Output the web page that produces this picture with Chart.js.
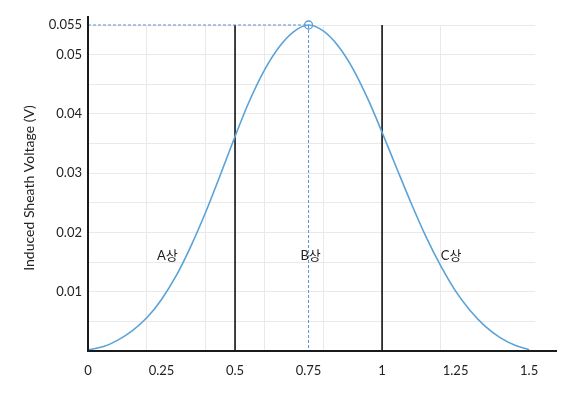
<!DOCTYPE html>
<html><head><meta charset="utf-8">
<script src="https://cdn.jsdelivr.net/npm/chart.js@4"></script>
<style>html,body{margin:0;padding:0;background:#fff}</style>
</head><body>
<canvas id="c" width="580" height="397"></canvas>
<script>
// ---- data ----
const positions = [0,0.05,0.1,0.15,0.2,0.25,0.3,0.35,0.4,0.45,0.5,0.55,0.6,0.65,0.7,0.75,
                   0.8,0.85,0.9,0.95,1.0,1.05,1.1,1.15,1.2,1.25,1.3,1.35,1.4,1.45,1.5];
const voltage = [0.0002,0.0007,0.0018,0.0034,0.0056,0.0087,0.0127,0.0177,0.0234,0.0297,0.0362,0.0423,0.0474,0.0513,0.0539,0.0550,
                 0.0540,0.0515,0.0477,0.0427,0.0369,0.0308,0.0248,0.0192,0.0143,0.0101,0.0068,0.0042,0.0023,0.0010,0.0002];
const xTickValues = [0,0.25,0.5,0.75,1,1.25,1.5];
const yTickValues = [0.01,0.02,0.03,0.04,0.05,0.055];
const peakX = 0.75, peakV = 0.055;
const phaseBoundaries = [0.5, 1];
const phaseNames = ['A상','B상','C상'];
const phaseLabelX = [0.27, 0.757, 1.235];
const phaseLabelV = [0.0160, 0.0160, 0.0160];
const yTitle = 'Induced Sheath Voltage (V)';

const FONT = "Lato, 'Noto Sans CJK KR', sans-serif";
const TXT = '#222';
const GRID = '#e9e9e9';

const datasets = [
  { data: positions.map((x,i)=>({x, y: voltage[i]})), borderColor:'#5aa3d8', borderWidth:1.6,
    pointRadius:0, cubicInterpolationMode:'monotone', fill:false, clip:false, order:0 },
  { data: [{x:peakX,y:peakV}], showLine:false, pointRadius:4, pointBorderWidth:1.3,
    pointBorderColor:'#5b9bd5', pointBackgroundColor:'rgba(255,255,255,0)', clip:false, order:1 },
  { data: [{x:0,y:peakV},{x:peakX,y:peakV}], borderColor:'#5b8fd6', borderWidth:1, borderDash:[3,2],
    pointRadius:0, clip:false, order:2 },
  { data: [{x:peakX,y:peakV},{x:peakX,y:0}], borderColor:'#5b8fd6', borderWidth:1, borderDash:[3,2],
    pointRadius:0, clip:false, order:2 },
];
phaseBoundaries.forEach(b => datasets.push({
  data: [{x:b,y:0},{x:b,y:peakV}], borderColor:'#111', borderWidth:1.6, pointRadius:0, clip:false, order:3
}));

const extras = {
  id:'extras',
  afterDraw(chart){
    const ctx = chart.ctx, xs = chart.scales.x, ys = chart.scales.y, a = chart.chartArea;
    const x0 = xs.getPixelForValue(0), y0 = ys.getPixelForValue(0);
    ctx.save();
    ctx.strokeStyle = '#1a1a1a'; ctx.lineWidth = 2;
    ctx.beginPath();
    ctx.moveTo(x0, a.top - 9); ctx.lineTo(x0, y0);
    ctx.moveTo(x0 - 1, y0); ctx.lineTo(a.right + 22, y0);
    ctx.stroke();
    ctx.fillStyle = TXT; ctx.font = "13px " + FONT;
    ctx.textAlign = 'center'; ctx.textBaseline = 'middle';
    phaseNames.forEach((n,i) => ctx.fillText(n, xs.getPixelForValue(phaseLabelX[i]), ys.getPixelForValue(phaseLabelV[i])));
    ctx.restore();
  }
};

new Chart(document.getElementById('c'), {
  type:'line',
  data:{ datasets },
  options:{
    responsive:false, animation:false, devicePixelRatio:1,
    layout:{ padding:{ top:25, right:45, left:0, bottom:0 } },
    plugins:{ legend:{display:false}, tooltip:{enabled:false} },
    scales:{
      x:{ type:'linear', position:'bottom', min:0, max:1.52,
          grid:{display:false, drawTicks:false}, border:{display:false},
          ticks:{ autoSkip:false, padding:12, color:TXT, font:{family:FONT, size:13},
                  callback:v => String(v) },
          afterBuildTicks: s => { s.ticks = xTickValues.map(v => ({value:v})); },
          afterFit: s => { s.height = 46; } },
      xg:{ type:'linear', position:'bottom', min:0, max:1.52,
           ticks:{ display:false, stepSize:0.2 },
           grid:{ color:GRID, lineWidth:1, drawTicks:false }, border:{display:false},
           afterBuildTicks: s => { s.ticks = s.ticks.filter(t => Math.abs(t.value/0.2 - Math.round(t.value/0.2)) < 1e-6); },
           afterFit: s => { s.height = 0; } },
      y:{ type:'linear', min:0, max:0.055,
          grid:{ color:GRID, lineWidth:1, drawTicks:false }, border:{display:false},
          ticks:{ stepSize:0.005, autoSkip:false, padding:6, color:TXT, font:{family:FONT, size:13},
                  callback: v => { const m = yTickValues.find(t => Math.abs(t - v) < 1e-9); return m === undefined ? '' : String(m); } },
          title:{ display:true, text:yTitle, color:TXT, font:{family:FONT, size:14}, padding:{top:21,bottom:0} },
          afterFit: s => { s.width = 88; } }
    }
  },
  plugins:[extras]
});
</script>
</body></html>
